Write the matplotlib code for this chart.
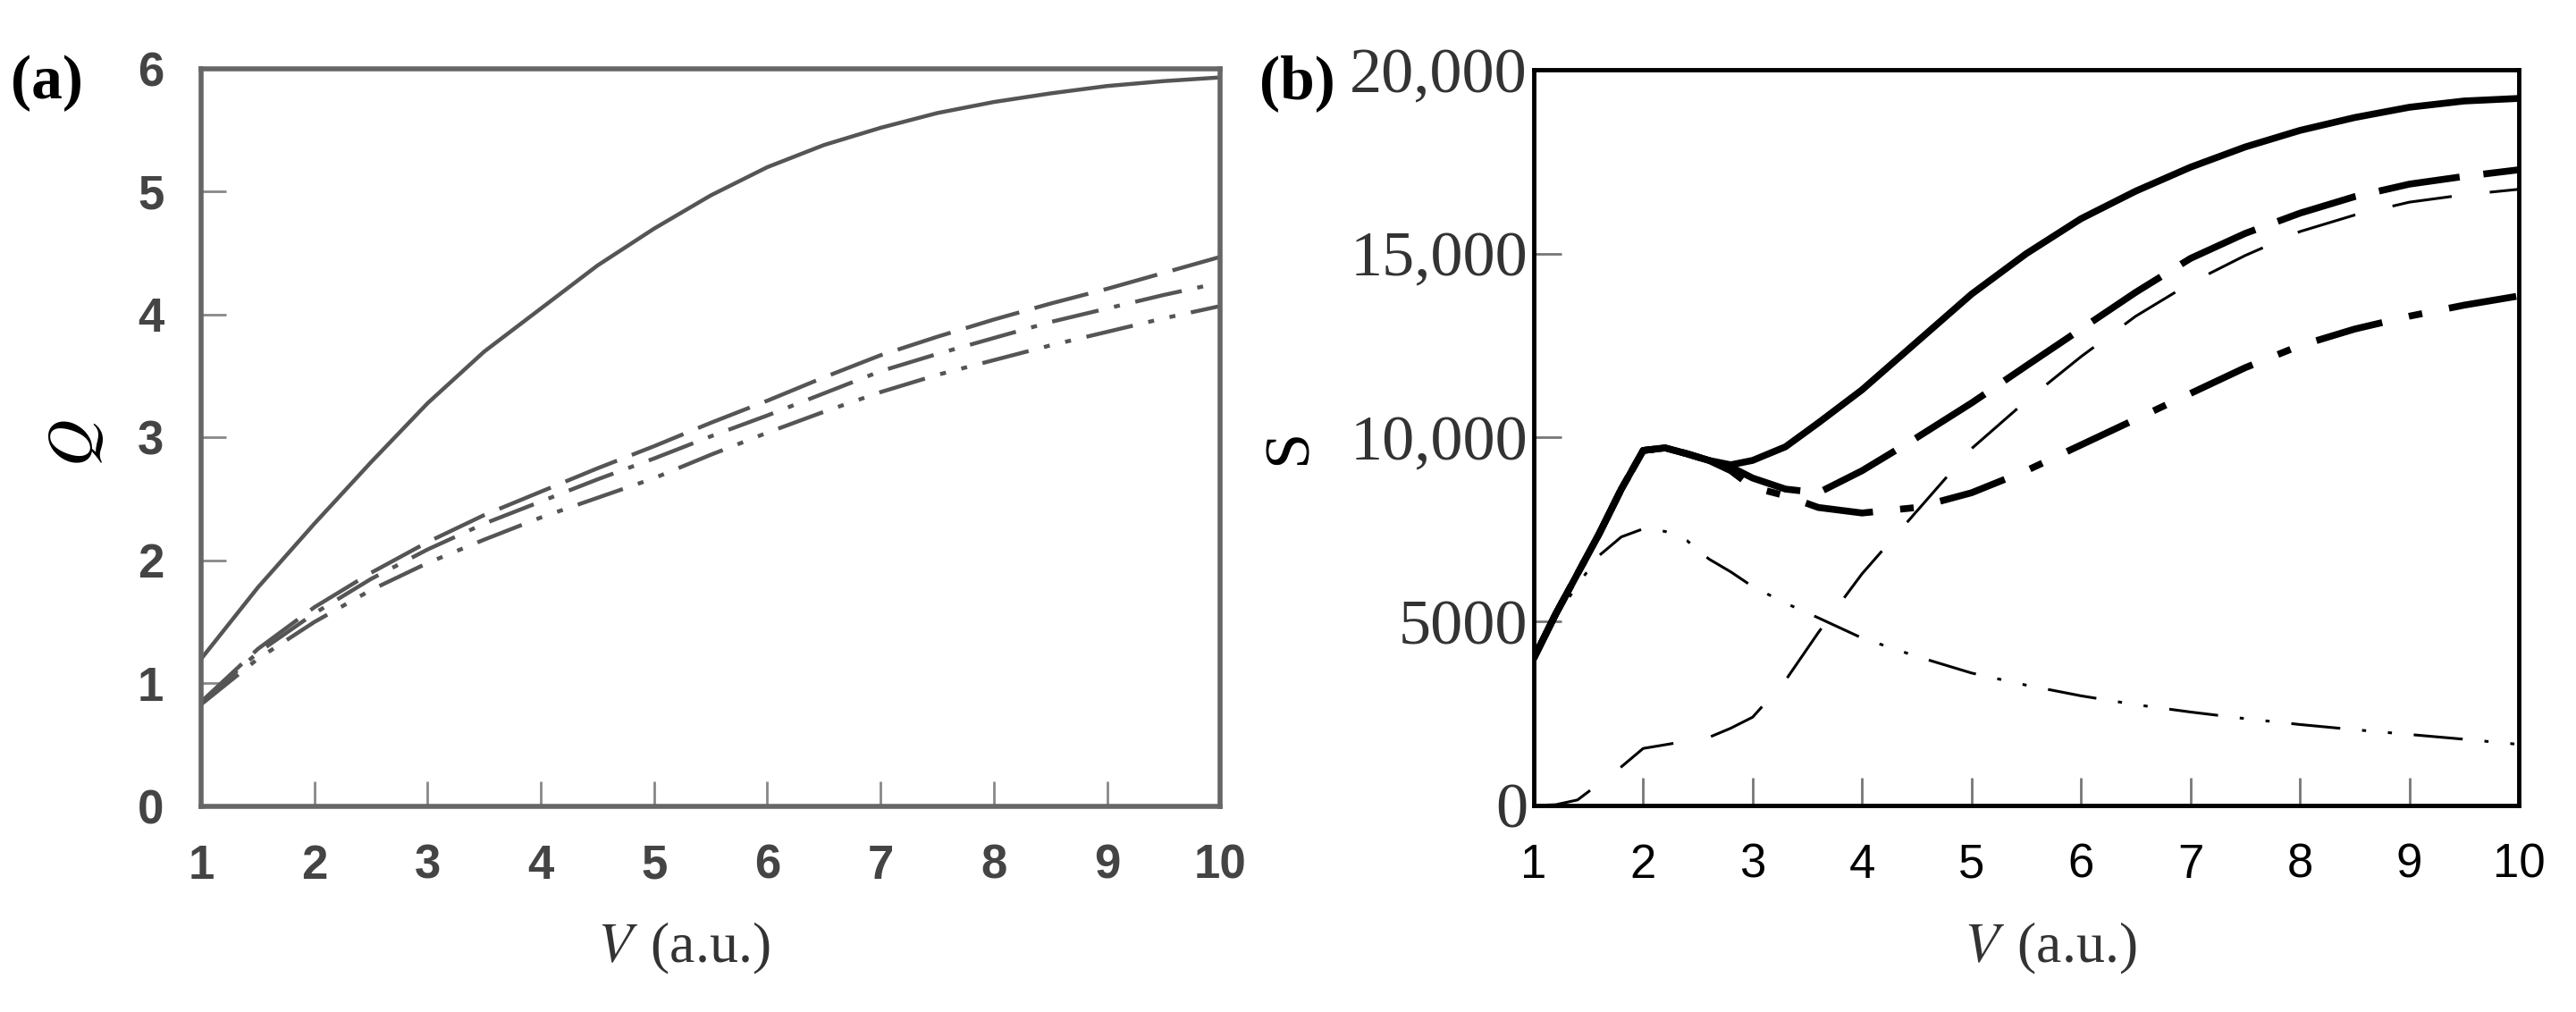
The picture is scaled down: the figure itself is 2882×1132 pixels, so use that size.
import matplotlib
matplotlib.use("Agg")
import matplotlib.pyplot as plt
from matplotlib import font_manager

plt.rcParams['mathtext.fontset'] = 'stix'

names = {f.name for f in font_manager.fontManager.ttflist}
sans = 'Liberation Sans Narrow' if 'Liberation Sans Narrow' in names else 'Liberation Sans'
serif = 'Liberation Serif'

# ---- panel (a) data ----
va = [1, 1.5, 2, 2.5, 3, 3.5, 4, 4.5, 5, 5.5, 6, 6.5, 7, 7.5, 8, 8.5, 9, 9.5, 10]
q_solid = [1.2, 1.78, 2.3, 2.8, 3.28, 3.7, 4.05, 4.4, 4.7, 4.97, 5.2, 5.38, 5.52,
           5.64, 5.73, 5.8, 5.86, 5.9, 5.93]
q_dash = [0.85, 1.28, 1.62, 1.9, 2.15, 2.37, 2.56, 2.75, 2.93, 3.12, 3.3, 3.49, 3.67,
          3.82, 3.96, 4.09, 4.21, 4.34, 4.47]
q_dashdot = [0.85, 1.25, 1.57, 1.85, 2.09, 2.3, 2.48, 2.66, 2.83, 3.01, 3.18, 3.36,
             3.54, 3.68, 3.81, 3.94, 4.05, 4.16, 4.26]
q_dashdotdot = [0.83, 1.2, 1.5, 1.76, 1.98, 2.17, 2.35, 2.51, 2.67, 2.86, 3.04, 3.21,
                3.37, 3.51, 3.63, 3.75, 3.86, 3.97, 4.07]

# ---- panel (b) data ----
vb = [1.0, 1.2, 1.4, 1.6, 1.8, 2.0, 2.2, 2.4, 2.6, 2.8, 3.0, 3.3, 3.6, 4.0, 4.5,
      5.0, 5.5, 6.0, 6.5, 7.0, 7.5, 8.0, 8.5, 9.0, 9.5, 10.0]
s_solid = [4000, 5200, 6300, 7400, 8600, 9650, 9720, 9560, 9380, 9260, 9380, 9750,
           10400, 11300, 12600, 13900, 15000, 15950, 16700, 17350, 17900, 18350,
           18700, 18980, 19150, 19220]
s_longdash = [4000, 5200, 6300, 7400, 8600, 9650, 9720, 9560, 9380, 9200, 8900, 8600,
              8500, 9100, 10000, 10940, 11950, 12950, 13950, 14870, 15550, 16100,
              16550, 16890, 17100, 17280]
s_dashdot = [4000, 5200, 6300, 7400, 8600, 9650, 9720, 9560, 9380, 9100, 8650, 8420,
             8100, 7950, 8100, 8500, 9100, 9800, 10500, 11200, 11900, 12500, 12950,
             13300, 13600, 13850]
s_thindash = [0, 20, 150, 600, 1050, 1550, 1650, 1750, 1850, 2100, 2400, 3400, 4700,
              6300, 8000, 9700, 11000, 12200, 13300, 14200, 14950, 15600, 16050,
              16400, 16600, 16750]
s_thindashdot = [4000, 5100, 6000, 6800, 7300, 7520, 7450, 7200, 6700, 6350, 5950,
                 5500, 5100, 4550, 4050, 3600, 3270, 2980, 2740, 2540, 2360, 2200,
                 2060, 1930, 1800, 1660]

xticks = [1, 2, 3, 4, 5, 6, 7, 8, 9, 10]
a_yticks = [0, 1, 2, 3, 4, 5, 6]
b_yticks = [0, 5000, 10000, 15000, 20000]
b_ylabels = ['0', '5000', '10,000', '15,000', '20,000']

fig = plt.figure(figsize=(28.82, 11.32), dpi=100)
ax1 = fig.add_axes([0.0781, 0.2032, 0.3956, 0.7288])
ax2 = fig.add_axes([0.5954, 0.2041, 0.3824, 0.7270])

# panel (a)
gray = '#555555'
ax1.plot(va, q_dashdotdot, color=gray, lw=3.2, ls=(0, (12, 4, 1.5, 4, 1.5, 4)))
ax1.plot(va, q_dashdot, color=gray, lw=3.2, ls=(0, (12, 4, 1.5, 4)))
ax1.plot(va, q_dash, color=gray, lw=3.2, ls=(0, (14, 4)))
ax1.plot(va, q_solid, color=gray, lw=3.2)
ax1.set_xlim(1, 10)
ax1.set_ylim(0, 6)
ax1.set_xticks(xticks)
ax1.set_xticklabels([str(t) for t in xticks], family=sans, fontsize=38,
                    fontweight='bold', color='#444444')
ax1.set_yticks(a_yticks)
ax1.set_yticklabels([str(t) for t in a_yticks], family=sans, fontsize=38,
                    fontweight='bold', color='#444444')
ax1.tick_params(direction='in', length=20, width=2, color='#888888')
ax1.tick_params(axis='x', pad=30)
ax1.tick_params(axis='y', pad=30)
for sp in ax1.spines.values():
    sp.set_color('#666666')
    sp.set_linewidth(4)

# panel (b)
ax2.plot(vb, s_thindashdot, color='black', lw=2.2, ls=(0, (18, 8, 1.5, 8, 1.5, 8)))
ax2.plot(vb, s_thindash, color='black', lw=2.2, ls=(0, (22, 14)))
ax2.plot(vb, s_dashdot, color='black', lw=5.5, ls=(0, (10, 4, 2, 4)))
ax2.plot(vb, s_longdash, color='black', lw=5.5, ls=(0, (12, 3.5)))
ax2.plot(vb, s_solid, color='black', lw=5.5)
ax2.set_xlim(1, 10)
ax2.set_ylim(0, 20000)
ax2.set_xticks(xticks)
ax2.set_xticklabels([str(t) for t in xticks], family=sans, fontsize=38)
ax2.set_yticks(b_yticks)
ax2.set_yticklabels(b_ylabels, family=serif, fontsize=52, color='#333333')
ax2.tick_params(direction='in', length=22, width=2, color='#777777')
ax2.tick_params(axis='x', pad=30)
ax2.tick_params(axis='y', pad=5)
for sp in ax2.spines.values():
    sp.set_color('black')
    sp.set_linewidth(3.5)

# labels
fig.text(0.004, 0.918, '(a)', family=serif, fontweight='bold', fontsize=50,
         ha='left', va='center')
fig.text(0.489, 0.918, '(b)', family=serif, fontweight='bold', fontsize=50,
         ha='left', va='center')
fig.text(0.0288, 0.562, r'$Q$', fontsize=52, rotation=90, ha='center', va='center')
fig.text(0.5007, 0.558, 'S', family=serif, fontsize=52, rotation=90,
         ha='center', va='center')
fig.text(0.2655, 0.063, r'$V\;\,$(a.u.)', family=serif, fontsize=46, color='#333333',
         ha='center', va='center')
fig.text(0.796, 0.063, r'$V\;\,$(a.u.)', family=serif, fontsize=46, color='#333333',
         ha='center', va='center')

fig.savefig('out.png', dpi=100)
